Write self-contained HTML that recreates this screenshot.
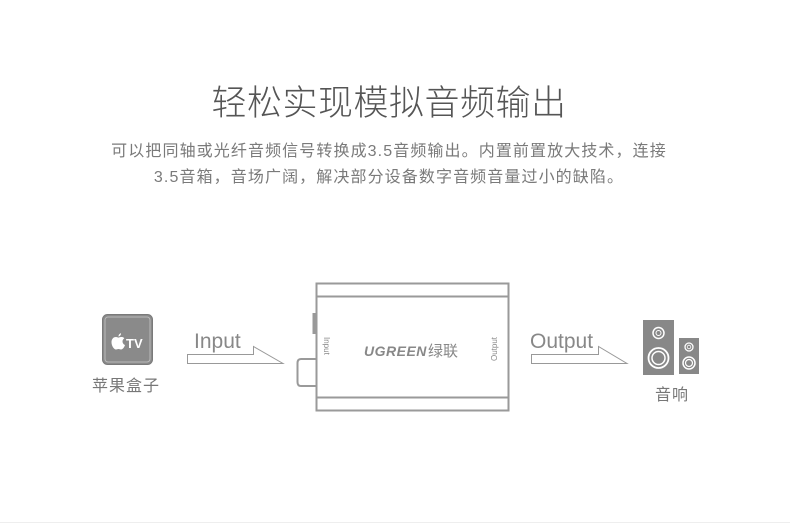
<!DOCTYPE html>
<html><head><meta charset="utf-8"><style>
html,body{margin:0;padding:0;background:#fff;}
body{width:790px;height:524px;position:relative;overflow:hidden;font-family:"Liberation Sans","Noto Sans CJK SC",sans-serif;}
.t{position:absolute;left:0;width:778px;text-align:center;}
.title{top:75px;font-size:35px;color:#555;font-weight:300;letter-spacing:0.5px;}
.p{font-size:16px;color:#7a7a7a;letter-spacing:1.1px;}
.lab{position:absolute;font-size:16px;color:#777;}
</style></head><body>
<div class="t title">轻松实现模拟音频输出</div>
<div class="t p" style="top:137px;">可以把同轴或光纤音频信号转换成3.5音频输出。内置前置放大技术，连接</div>
<div class="t p" style="top:163px;">3.5音箱，音场广阔，解决部分设备数字音频音量过小的缺陷。</div>

<svg width="790" height="524" style="position:absolute;left:0;top:0" xmlns="http://www.w3.org/2000/svg">
<rect x="102.5" y="314.5" width="50" height="50" rx="5" fill="#8a8a8a" stroke="#7a7a7a"/>
<rect x="105" y="317" width="45" height="45" rx="3" fill="none" stroke="#bbb" stroke-width="1"/>
<path d="M116,337 C113,337 111.5,339.5 111.5,342 C111.5,346 114,349.5 116,349.5 C117,349.5 117.5,349 118.5,349 C119.5,349 120,349.5 121,349.5 C123,349.5 124.5,346.5 125,345 C123.5,344.5 122.5,343 122.5,341.5 C122.5,340 123.5,339 124.3,338.3 C123.3,337 122,337 121,337 C120,337 119.2,337.6 118.5,337.6 C117.8,337.6 117,337 116,337 Z M118.5,336.5 C118.5,335 119.5,333.5 121,333.3 C121.1,334.8 120,336.4 118.5,336.5 Z" fill="#fff"/>
<text x="126" y="348" font-family="Liberation Sans,sans-serif" font-size="13" font-weight="bold" fill="#fff">TV</text>
<polygon points="187.5,354.5 253.5,354.5 253.5,346.5 283,363.5 187.5,363.5" fill="none" stroke="#999" stroke-width="1"/>
<text x="194" y="348" font-family="Liberation Sans,sans-serif" font-size="21" fill="#888">Input</text>
<rect x="316.5" y="283.5" width="192" height="127" fill="#fff" stroke="#9a9a9a" stroke-width="2"/>
<line x1="316" y1="296.5" x2="508" y2="296.5" stroke="#9a9a9a" stroke-width="2"/>
<line x1="316" y1="397.5" x2="508" y2="397.5" stroke="#9a9a9a" stroke-width="2"/>
<rect x="312.5" y="313" width="3" height="21" fill="#999"/>
<path d="M316,359 L301,359 Q297.5,359 297.5,363 L297.5,382 Q297.5,386 301,386 L316,386" fill="none" stroke="#9a9a9a" stroke-width="2"/>
<text transform="translate(324,337) rotate(90)" font-family="Liberation Sans,sans-serif" font-size="8" fill="#888">Input</text>
<text transform="translate(497,361) rotate(-90)" font-family="Liberation Sans,sans-serif" font-size="8" fill="#888">Output</text>
<text x="364" y="356" font-family="Liberation Sans,sans-serif" font-size="14" font-style="italic" font-weight="bold" fill="#888" letter-spacing="0.5">UGREEN</text>
<text x="428" y="356" font-family="Liberation Sans,Noto Sans CJK SC,sans-serif" font-size="15" fill="#888">绿联</text>
<polygon points="531.5,354.5 598.5,354.5 598.5,346.5 627,363.5 531.5,363.5" fill="none" stroke="#999" stroke-width="1"/>
<text x="530" y="348" font-family="Liberation Sans,sans-serif" font-size="21" fill="#888">Output</text>
<rect x="643" y="320" width="31" height="55" fill="#888"/>
<circle cx="658.5" cy="333" r="5.5" fill="none" stroke="#fff" stroke-width="1.5"/>
<circle cx="658.5" cy="333" r="2.5" fill="none" stroke="#fff" stroke-width="1"/>
<circle cx="658.5" cy="358" r="10" fill="none" stroke="#fff" stroke-width="1.8"/>
<circle cx="658.5" cy="358" r="6.5" fill="none" stroke="#fff" stroke-width="1.5"/>
<rect x="679" y="338" width="20" height="36" fill="#888"/>
<circle cx="689" cy="347" r="4" fill="none" stroke="#fff" stroke-width="1.3"/>
<circle cx="689" cy="347" r="1.8" fill="none" stroke="#fff" stroke-width="0.8"/>
<circle cx="689" cy="363" r="6" fill="none" stroke="#fff" stroke-width="1.5"/>
<circle cx="689" cy="363" r="3.5" fill="none" stroke="#fff" stroke-width="1.2"/>
<line x1="0" y1="522.5" x2="790" y2="522.5" stroke="#eee"/>
</svg>
<div class="lab" style="left:92px;top:372px;letter-spacing:1px;">苹果盒子</div>
<div class="lab" style="left:655px;top:381px;letter-spacing:1px;">音响</div>
</body></html>
